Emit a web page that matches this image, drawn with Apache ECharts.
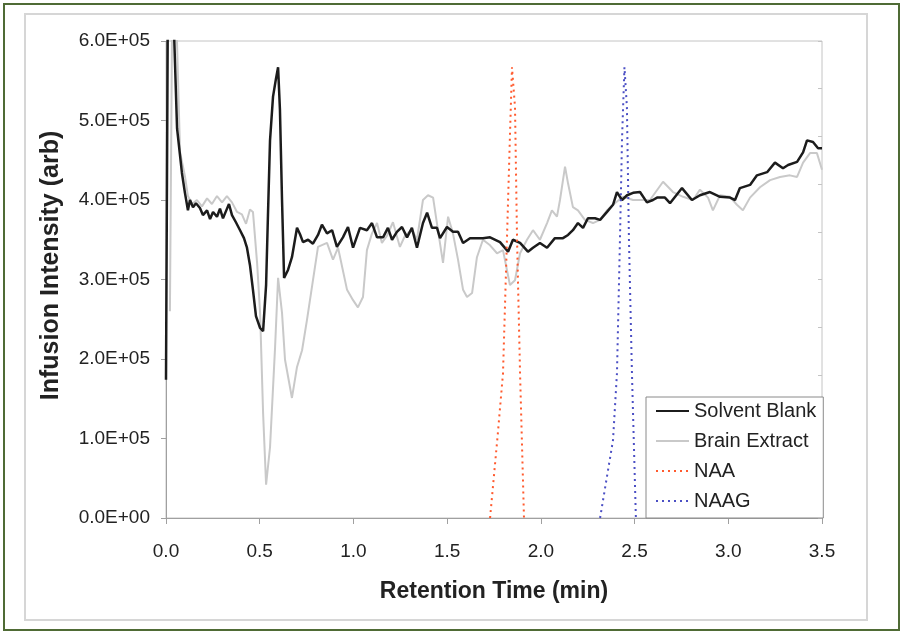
<!DOCTYPE html>
<html>
<head>
<meta charset="utf-8">
<script src="https://cdn.jsdelivr.net/npm/echarts@6/dist/echarts.min.js"></script>
<style>
  html, body { margin: 0; padding: 0; background: #fff; }
  #chart { width: 904px; height: 633px; }
</style>
</head>
<body>
<div id="chart"></div>
<script>
// values are in units of 1E+05
var blankTime = [0, 0.011, 0.043, 0.059, 0.085, 0.101, 0.117, 0.128, 0.144, 0.160, 0.181, 0.197, 0.219, 0.235, 0.251, 0.272, 0.288, 0.304, 0.320, 0.336, 0.352, 0.373, 0.395, 0.416, 0.432, 0.448, 0.464, 0.480, 0.502, 0.518, 0.534, 0.544, 0.555, 0.571, 0.587, 0.598, 0.608, 0.619, 0.630, 0.651, 0.672, 0.683, 0.699, 0.715, 0.731, 0.758, 0.784, 0.811, 0.832, 0.859, 0.886, 0.912, 0.944, 0.971, 0.998, 1.035, 1.072, 1.099, 1.126, 1.158, 1.184, 1.206, 1.232, 1.259, 1.286, 1.312, 1.339, 1.371, 1.393, 1.419, 1.446, 1.462, 1.499, 1.531, 1.558, 1.585, 1.622, 1.659, 1.691, 1.729, 1.782, 1.825, 1.851, 1.889, 1.931, 1.958, 1.995, 2.033, 2.075, 2.118, 2.145, 2.171, 2.198, 2.225, 2.251, 2.289, 2.316, 2.353, 2.385, 2.406, 2.433, 2.460, 2.492, 2.529, 2.566, 2.598, 2.620, 2.662, 2.689, 2.753, 2.806, 2.849, 2.902, 2.956, 3.009, 3.036, 3.062, 3.116, 3.153, 3.207, 3.249, 3.292, 3.319, 3.367, 3.399, 3.420, 3.452, 3.479, 3.500];
var blankValue = [1.74, 7.0, 6.1, 4.9, 4.34, 4.09, 3.87, 4.00, 3.91, 3.96, 3.90, 3.81, 3.87, 3.76, 3.85, 3.79, 3.89, 3.77, 3.86, 3.95, 3.81, 3.72, 3.62, 3.52, 3.40, 3.18, 2.87, 2.54, 2.39, 2.35, 2.93, 3.81, 4.75, 5.30, 5.53, 5.67, 5.13, 4.00, 3.02, 3.12, 3.28, 3.43, 3.65, 3.57, 3.47, 3.50, 3.45, 3.56, 3.69, 3.58, 3.62, 3.41, 3.53, 3.66, 3.40, 3.65, 3.62, 3.71, 3.53, 3.53, 3.65, 3.50, 3.60, 3.66, 3.53, 3.65, 3.40, 3.71, 3.84, 3.65, 3.65, 3.52, 3.66, 3.60, 3.60, 3.46, 3.52, 3.52, 3.52, 3.53, 3.47, 3.35, 3.50, 3.46, 3.35, 3.40, 3.46, 3.40, 3.52, 3.52, 3.56, 3.62, 3.71, 3.65, 3.77, 3.77, 3.75, 3.85, 3.94, 4.10, 4.00, 4.06, 4.09, 4.10, 3.97, 4.00, 4.03, 4.03, 3.96, 4.15, 4.00, 4.06, 4.10, 4.04, 4.03, 4.00, 4.15, 4.19, 4.31, 4.35, 4.47, 4.40, 4.44, 4.48, 4.60, 4.75, 4.73, 4.65, 4.65];

var extractTime = [0.021, 0.035, 0.055, 0.075, 0.101, 0.117, 0.139, 0.165, 0.192, 0.219, 0.245, 0.272, 0.299, 0.325, 0.352, 0.379, 0.405, 0.427, 0.448, 0.464, 0.486, 0.502, 0.518, 0.534, 0.555, 0.582, 0.598, 0.619, 0.635, 0.672, 0.699, 0.726, 0.752, 0.784, 0.811, 0.859, 0.891, 0.918, 0.966, 0.998, 1.024, 1.051, 1.072, 1.099, 1.126, 1.152, 1.179, 1.211, 1.248, 1.275, 1.312, 1.339, 1.371, 1.398, 1.425, 1.451, 1.478, 1.505, 1.531, 1.558, 1.585, 1.606, 1.633, 1.659, 1.691, 1.729, 1.766, 1.798, 1.819, 1.835, 1.862, 1.889, 1.926, 1.958, 1.995, 2.033, 2.059, 2.086, 2.102, 2.129, 2.145, 2.171, 2.198, 2.235, 2.278, 2.316, 2.353, 2.385, 2.438, 2.492, 2.545, 2.582, 2.652, 2.705, 2.759, 2.812, 2.849, 2.892, 2.918, 2.956, 3.009, 3.046, 3.078, 3.116, 3.169, 3.223, 3.276, 3.329, 3.367, 3.399, 3.436, 3.473, 3.500];
var extractValue = [2.6, 7.0, 6.3, 4.6, 4.30, 4.05, 3.95, 4.00, 3.92, 4.02, 3.95, 4.05, 3.97, 4.05, 3.97, 3.85, 3.82, 3.70, 3.88, 3.85, 3.21, 2.58, 1.32, 0.42, 0.89, 2.15, 3.02, 2.58, 1.99, 1.51, 1.90, 2.11, 2.49, 2.99, 3.41, 3.46, 3.25, 3.40, 2.87, 2.74, 2.65, 2.78, 3.37, 3.58, 3.71, 3.46, 3.55, 3.72, 3.41, 3.55, 3.63, 3.50, 4.00, 4.06, 4.03, 3.62, 3.21, 3.79, 3.58, 3.25, 2.87, 2.78, 2.83, 3.28, 3.50, 3.43, 3.33, 3.37, 3.12, 2.93, 2.99, 3.33, 3.50, 3.62, 3.50, 3.71, 3.87, 3.79, 4.00, 4.42, 4.21, 3.91, 3.87, 3.75, 3.71, 3.75, 3.87, 3.94, 4.04, 4.00, 4.00, 4.00, 4.23, 4.10, 4.04, 4.00, 4.13, 4.03, 3.87, 4.06, 4.04, 3.94, 3.87, 4.03, 4.16, 4.25, 4.29, 4.31, 4.29, 4.47, 4.59, 4.59, 4.38];

var naaTime = [1.729, 1.770, 1.798, 1.819, 1.835, 1.846, 1.862, 1.873, 1.889, 1.910];
var naaValue = [0, 1.05, 1.82, 3.50, 4.80, 5.67, 5.17, 3.50, 1.82, 0];

var naagTime = [2.316, 2.385, 2.406, 2.422, 2.433, 2.446, 2.459, 2.470, 2.486, 2.507];
var naagValue = [0, 0.98, 1.82, 3.50, 4.76, 5.67, 5.17, 3.50, 1.82, 0];

var yTicks = [0, 1, 2, 3, 4, 5, 6];

function pairs(t, v) {
    return t.map(function (x, i) { return [x, v[i] * 1e5]; });
}

var FONT = 'Arial, "Liberation Sans", sans-serif';

var chart = echarts.init(document.getElementById('chart'), null, { renderer: 'canvas' });

var option = {
    backgroundColor: '#fff',
    animation: false,
    graphic: [
        { type: 'rect', shape: { x: 4, y: 4, width: 895, height: 626 }, style: { fill: 'none', stroke: '#4f6b35', lineWidth: 2 }, silent: true },
        { type: 'rect', shape: { x: 25, y: 14, width: 842, height: 606 }, style: { fill: 'none', stroke: '#d6d6d6', lineWidth: 2 }, silent: true }
    ],
    grid: {
        left: 166, right: 82, top: 41, bottom: 115,
        show: true, borderColor: '#c4c4c4', borderWidth: 1, backgroundColor: '#fff'
    },
    legend: {
        orient: 'vertical',
        left: 646, top: 397,
        data: ['Solvent Blank', 'Brain Extract', 'NAA', 'NAAG'],
        backgroundColor: '#fff',
        borderColor: '#8a8a8a', borderWidth: 1,
        padding: [4, 7, 7, 9],
        itemGap: 10,
        itemWidth: 33, itemHeight: 14,
        selectedMode: false,
        itemStyle: { opacity: 0 },
        textStyle: { fontFamily: FONT, fontSize: 20, color: '#222' }
    },
    xAxis: {
        type: 'value',
        min: 0, max: 3.5, interval: 0.5,
        name: 'Retention Time (min)',
        nameLocation: 'middle',
        nameGap: 62,
        nameTextStyle: { fontFamily: FONT, fontSize: 23, fontWeight: 'bold', color: '#222' },
        axisLine: { lineStyle: { color: '#a0a0a0', width: 1 } },
        axisTick: { show: true, length: 6, lineStyle: { color: '#a0a0a0' } },
        axisLabel: {
            margin: 24, fontFamily: FONT, fontSize: 19, color: '#222',
            formatter: function (v) { return v.toFixed(1); }
        },
        splitLine: { show: false }
    },
    yAxis: [
        {
            type: 'value',
            min: 0, max: 6e5, interval: 1e5,
            name: 'Infusion Intensity (arb)',
            nameLocation: 'middle',
            nameGap: 102,
            nameTextStyle: { fontFamily: FONT, fontSize: 25, fontWeight: 'bold', color: '#222', padding: [0, 0, 0, 28] },
            axisLine: { show: true, lineStyle: { color: '#a0a0a0', width: 1 } },
            axisTick: { show: true, length: 5, lineStyle: { color: '#a0a0a0' } },
            axisLabel: {
                margin: 16, fontFamily: FONT, fontSize: 19, color: '#222',
                formatter: function (v) {
                    var k = yTicks.indexOf(Math.round(v / 1e5));
                    return k === 0 ? '0.0E+00' : yTicks[k].toFixed(1) + 'E+05';
                }
            },
            splitLine: { show: false }
        },
        {
            // unlabeled secondary scale: only the small inner ticks on the right edge
            type: 'value', position: 'right',
            min: 0, max: 10, interval: 1,
            axisLine: { show: false },
            axisTick: { show: true, inside: true, length: 4, lineStyle: { color: '#c4c4c4' } },
            axisLabel: { show: false },
            splitLine: { show: false }
        }
    ],
    series: [
        {
            name: 'Brain Extract', type: 'line', data: pairs(extractTime, extractValue),
            symbol: 'none', z: 2, clip: true,
            lineStyle: { color: '#c9c9c9', width: 2 },
            itemStyle: { color: '#c9c9c9', opacity: 0 }
        },
        {
            name: 'Solvent Blank', type: 'line', data: pairs(blankTime, blankValue),
            symbol: 'none', z: 3, clip: true,
            lineStyle: { color: '#1c1c1c', width: 2.5 },
            itemStyle: { color: '#1c1c1c', opacity: 0 }
        },
        {
            name: 'NAA', type: 'line', data: pairs(naaTime, naaValue),
            symbol: 'none', z: 4, clip: true,
            lineStyle: { color: '#ff5a2e', width: 2, type: [2, 4] },
            itemStyle: { color: '#ff5a2e', opacity: 0 }
        },
        {
            name: 'NAAG', type: 'line', data: pairs(naagTime, naagValue),
            symbol: 'none', z: 4, clip: true,
            lineStyle: { color: '#4b4fc4', width: 2, type: [2, 4] },
            itemStyle: { color: '#4b4fc4', opacity: 0 }
        }
    ]
};

chart.setOption(option);
</script>
</body>
</html>
